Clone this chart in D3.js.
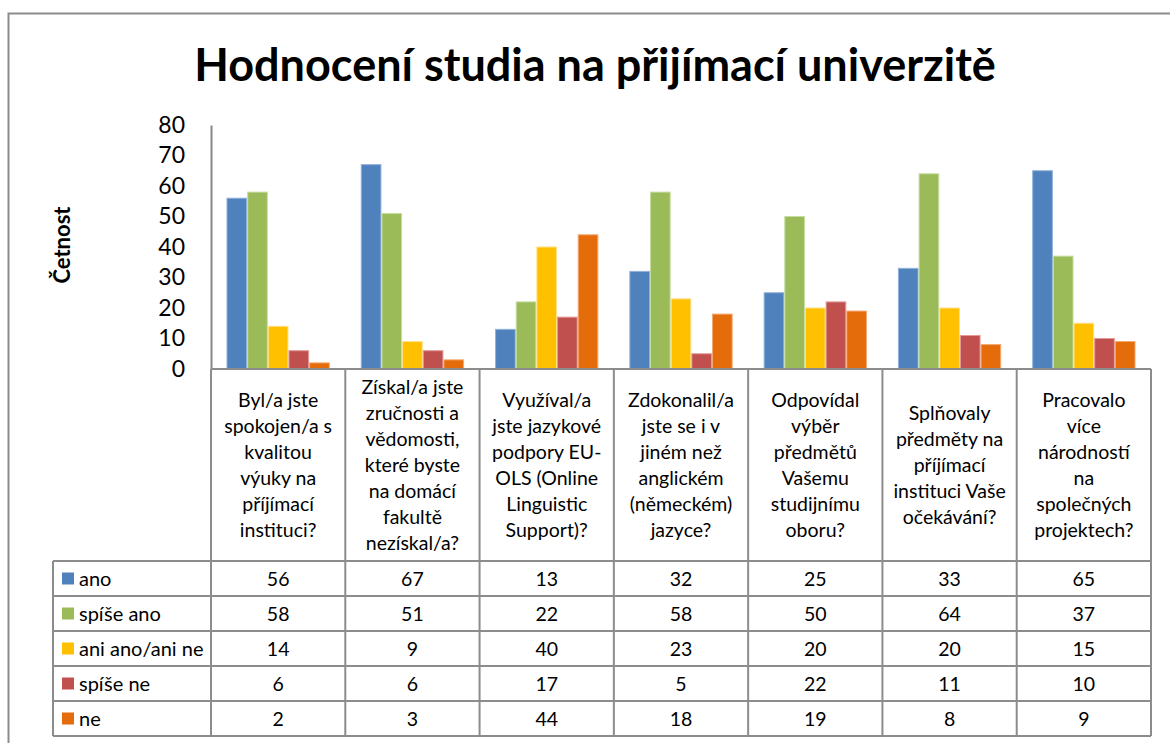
<!DOCTYPE html>
<html lang="cs">
  <head>
    <meta charset="UTF-8" />
    <title>Hodnocení studia na přijímací univerzitě</title>
    <style>
      body {
        margin: 0;
        background: #fff;
        font-family: Lato, 'Noto Sans', sans-serif;
      }
      .grid line {
        stroke: #8c8c8c;
        stroke-width: 2;
      }
    </style>
  </head>
  <body>
    <div id="chart"></div>

    <script src="https://d3js.org/d3.v7.min.js"></script>
    <script>
      // category labels, already broken into lines like the original
      const categoryLines = [
        ['Byl/a jste', 'spokojen/a s', 'kvalitou', 'výuky na', 'příjímací', 'instituci?'],
        ['Získal/a jste', 'zručnosti a', 'vědomosti,', 'které byste', 'na domácí', 'fakultě', 'nezískal/a?'],
        ['Využíval/a', 'jste jazykové', 'podpory EU-', 'OLS (Online', 'Linguistic', 'Support)?'],
        ['Zdokonalil/a', 'jste se i v', 'jiném než', 'anglickém', '(německém)', 'jazyce?'],
        ['Odpovídal', 'výběr', 'předmětů', 'Vašemu', 'studijnímu', 'oboru?'],
        ['Splňovaly', 'předměty na', 'příjímací', 'instituci Vaše', 'očekávání?'],
        ['Pracovalo', 'více', 'národností', 'na', 'společných', 'projektech?'],
      ];
      const categories = categoryLines.map((l) => l.join(' '));

      const seriesNames = ['ano', 'spíše ano', 'ani ano/ani ne', 'spíše ne', 'ne'];
      const ano = [56, 67, 13, 32, 25, 33, 65];
      const spiseAno = [58, 51, 22, 58, 50, 64, 37];
      const aniAni = [14, 9, 40, 23, 20, 20, 15];
      const spiseNe = [6, 6, 17, 5, 22, 11, 10];
      const ne = [2, 3, 44, 18, 19, 8, 9];
      const seriesValues = [ano, spiseAno, aniAni, spiseNe, ne];
      const yTicks = [0, 10, 20, 30, 40, 50, 60, 70, 80];

      const colors = ['#4f81bd', '#9bbb59', '#ffc000', '#c0504d', '#e46c0a'];
      const edges = ['#8fb1dc', '#c7dca0', '#ffe08a', '#e49a98', '#f4a870'];

      const W = 1170, H = 743;
      const plotLeft = 211, plotRight = 1151;
      const plotTop = 125, plotBottom = 369;
      const headerBottom = 561, rowH = 35;
      const legendLeft = 53;

      const svg = d3.select('#chart').append('svg').attr('width', W).attr('height', H);

      // outer frame
      svg.append('path')
        .attr('d', `M8.5,${H} V13.5 H${W}`)
        .attr('fill', 'none')
        .attr('stroke', '#8c8c8c')
        .attr('stroke-width', 2);

      // title
      svg.append('text')
        .attr('x', 595)
        .attr('y', 81)
        .attr('text-anchor', 'middle')
        .style('font-size', '45px')
        .style('font-weight', 'bold')
        .text('Hodnocení studia na přijímací univerzitě');

      // y axis title
      svg.append('text')
        .attr('transform', 'translate(70,245) rotate(-90)')
        .attr('text-anchor', 'middle')
        .style('font-size', '22px')
        .style('font-weight', 'bold')
        .text('Četnost');

      const x = d3.scaleBand().domain(categories).range([plotLeft, plotRight]);
      const bw = x.bandwidth();
      const gap = bw * 0.1154;
      const xs = d3.scaleBand().domain(seriesNames).range([gap, bw - gap]);
      const y = d3.scaleLinear().domain([0, 80]).range([plotBottom, plotTop]);

      // y axis
      const yAxis = svg.append('g')
        .attr('transform', `translate(${plotLeft},0)`)
        .call(d3.axisLeft(y).tickValues(yTicks).tickSize(0).tickPadding(26));
      yAxis.select('.domain').attr('stroke', '#868686').attr('stroke-width', 2);
      yAxis.selectAll('text')
        .style('font-family', 'Lato, sans-serif')
        .style('font-size', '23px')
        .attr('fill', '#000');

      // bars
      const groups = svg.selectAll('.cat')
        .data(categories)
        .enter()
        .append('g')
        .attr('class', 'cat')
        .attr('transform', (d) => `translate(${x(d)},0)`);

      groups.selectAll('rect')
        .data((d, i) => seriesNames.map((s, j) => ({ s, j, v: seriesValues[j][i] })))
        .enter()
        .append('rect')
        .attr('x', (d) => xs(d.s) + 0.5)
        .attr('width', xs.bandwidth() - 1)
        .attr('y', (d) => y(d.v))
        .attr('height', (d) => y(0) - y(d.v))
        .attr('fill', (d) => colors[d.j])
        .attr('stroke', (d) => edges[d.j])
        .attr('stroke-width', 1);

      // category labels in header cells
      const lineH = 26;
      const mid = (plotBottom + headerBottom) / 2;
      categoryLines.forEach((lines, i) => {
        const t = svg.append('text')
          .attr('text-anchor', 'middle')
          .style('font-size', '19.5px');
        lines.forEach((ln, k) => {
          t.append('tspan')
            .attr('x', x(categories[i]) + bw / 2)
            .attr('y', mid + (k - (lines.length - 1) / 2) * lineH + 7)
            .text(ln);
        });
      });

      // data table
      const grid = svg.append('g').attr('class', 'grid');
      const tableBottom = headerBottom + rowH * seriesNames.length;
      x.domain().forEach((c) => {
        grid.append('line')
          .attr('x1', x(c)).attr('x2', x(c))
          .attr('y1', plotBottom).attr('y2', tableBottom);
      });
      grid.append('line')
        .attr('x1', plotRight).attr('x2', plotRight)
        .attr('y1', plotBottom).attr('y2', tableBottom);
      grid.append('line')
        .attr('x1', legendLeft).attr('x2', legendLeft)
        .attr('y1', headerBottom).attr('y2', tableBottom);
      grid.append('line')
        .attr('x1', plotLeft).attr('x2', plotRight)
        .attr('y1', plotBottom).attr('y2', plotBottom);
      d3.range(seriesNames.length + 1).forEach((r) => {
        grid.append('line')
          .attr('x1', legendLeft).attr('x2', plotRight)
          .attr('y1', headerBottom + r * rowH).attr('y2', headerBottom + r * rowH);
      });

      seriesNames.forEach((s, j) => {
        const cy = headerBottom + j * rowH + rowH / 2;
        svg.append('rect')
          .attr('x', 62).attr('y', cy - 6)
          .attr('width', 12).attr('height', 12)
          .attr('fill', colors[j]);
        svg.append('text')
          .attr('x', 79).attr('y', cy + 7)
          .style('font-size', '20px')
          .text(s);
        seriesValues[j].forEach((v, i) => {
          svg.append('text')
            .attr('x', x(categories[i]) + bw / 2)
            .attr('y', cy + 7)
            .attr('text-anchor', 'middle')
            .style('font-size', '19.5px')
            .text(v);
        });
      });
    </script>
  </body>
</html>
